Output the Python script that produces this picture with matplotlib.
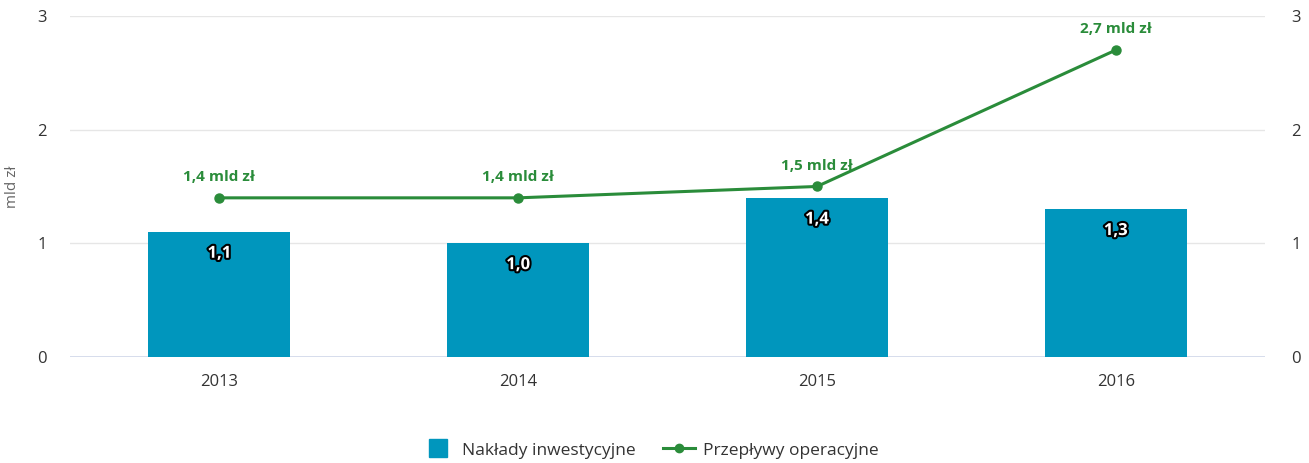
import matplotlib.pyplot as plt
import matplotlib.patheffects as pe
from matplotlib.lines import Line2D

years = ["2013", "2014", "2015", "2016"]
naklady = [1.1, 1.0, 1.4, 1.3]
przeplywy = [1.4, 1.4, 1.5, 2.7]
bar_labels = ["1,1", "1,0", "1,4", "1,3"]
line_labels = ["1,4 mld zł", "1,4 mld zł", "1,5 mld zł", "2,7 mld zł"]

blue = "#0096BD"
green = "#2A8C3A"

plt.rcParams["font.family"] = ["Open Sans", "DejaVu Sans"]

fig = plt.figure(figsize=(13.09, 4.63), dpi=100)
ax = fig.add_axes([0.0535, 0.229, 0.913, 0.7365])

x = list(range(len(years)))
ax.bar(x, naklady, width=0.475, color=blue, zorder=2)
ax.plot(x, przeplywy, color=green, lw=2.2, marker="o", ms=6.5, zorder=3)

for xi, v, lab in zip(x, naklady, bar_labels):
    ax.annotate(lab, (xi, v), xytext=(0, -15), textcoords="offset points",
                ha="center", va="center", fontsize=12, fontweight="bold",
                color="white", zorder=4,
                path_effects=[pe.withStroke(linewidth=3, foreground="black")])

for xi, v, lab in zip(x, przeplywy, line_labels):
    ax.annotate(lab, (xi, v), xytext=(0, 15), textcoords="offset points",
                ha="center", va="center", fontsize=11, fontweight="bold",
                color=green, zorder=4)

ax.set_xlim(-0.5, 3.5)
ax.set_ylim(0, 3)
ax.set_yticks([0, 1, 2, 3])
ax.set_xticks(x)
ax.set_xticklabels(years)
ax.grid(axis="y", color="#e6e6e6", lw=1, zorder=0)
ax.axhline(0, color="#ccd6eb", lw=1.2, zorder=1)
for s in ax.spines.values():
    s.set_visible(False)
ax.tick_params(axis="both", length=0, labelsize=12, colors="#333333")
ax.tick_params(axis="y", pad=17)
ax.tick_params(axis="x", pad=12)
ax.set_ylabel("mld zł", fontsize=11, color="#666666", labelpad=12)

ax2 = ax.twinx()
ax2.set_ylim(0, 3)
ax2.set_yticks([0, 1, 2, 3])
for s in ax2.spines.values():
    s.set_visible(False)
ax2.tick_params(axis="y", length=0, labelsize=12, colors="#333333", pad=19)

handles = [Line2D([0], [0], color=blue, marker="s", ls="", ms=13),
           Line2D([0], [0], color=green, lw=2.2, marker="o", ms=6)]
fig.legend(handles, ["Nakłady inwestycyjne", "Przepływy operacyjne"],
           loc="center", bbox_to_anchor=(0.497, 0.027), ncol=2, frameon=False,
           fontsize=12.5, handlelength=1.8, columnspacing=1.6,
           handletextpad=0.5, labelcolor="#333333")

fig.savefig("out.png", dpi=100)
